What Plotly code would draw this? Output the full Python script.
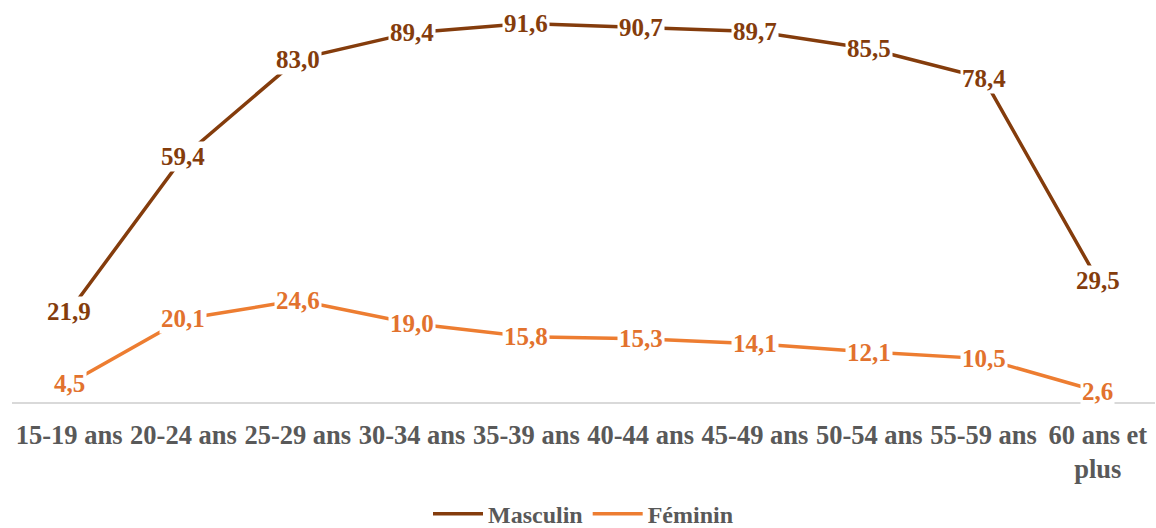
import plotly.graph_objects as go

categories = ["15-19 ans", "20-24 ans", "25-29 ans", "30-34 ans", "35-39 ans",
              "40-44 ans", "45-49 ans", "50-54 ans", "55-59 ans", "60 ans et<br>plus"]
masculin = [21.9, 59.4, 83.0, 89.4, 91.6, 90.7, 89.7, 85.5, 78.4, 29.5]
feminin = [4.5, 20.1, 24.6, 19.0, 15.8, 15.3, 14.1, 12.1, 10.5, 2.6]

C_M = "#843C0C"
C_F = "#ED7D31"
C_F_TXT = "#E2722E"
FONT = "Liberation Serif"

fig = go.Figure()
xs = list(range(len(categories)))
fig.add_trace(go.Scatter(x=xs, y=masculin, mode="lines", name="Masculin",
                         line=dict(color=C_M, width=3.5)))
fig.add_trace(go.Scatter(x=xs, y=feminin, mode="lines", name="Féminin",
                         line=dict(color=C_F, width=3.5)))

def fmt(v):
    return f"{v:.1f}".replace(".", ",")

annotations = []
for vals, col in ((masculin, C_M), (feminin, C_F_TXT)):
    for i, v in enumerate(vals):
        annotations.append(dict(x=i, y=v, xref="x", yref="y", text=f"<b>{fmt(v)}</b>",
                                showarrow=False, bgcolor="white", borderpad=1,
                                font=dict(family=FONT, size=25, color=col)))

fig.update_layout(
    width=1156, height=528,
    margin=dict(l=12, r=1, t=0, b=126, autoexpand=False),
    paper_bgcolor="white", plot_bgcolor="white",
    annotations=annotations,
    showlegend=True,
    legend=dict(orientation="h", x=0.5, xanchor="center", y=-0.279, yanchor="middle",
                itemwidth=50,
                font=dict(family=FONT, size=24, color="#595959", weight="bold")),
    xaxis=dict(range=[-0.5, 9.5], tickmode="array", tickvals=xs,
               ticktext=[f"<b>{c}</b>" for c in categories],
               showgrid=False, zeroline=False, showline=True,
               linecolor="#D9D9D9", linewidth=1.5, automargin=False,
               ticks="", ticklabelstandoff=8,
               tickfont=dict(family=FONT, size=26.5, color="#595959")),
    yaxis=dict(range=[0, 97.3], visible=False, showgrid=False, zeroline=False),
)

fig.write_html("out.html", config={"displayModeBar": False},
               post_script="document.body.style.margin='0';document.body.style.overflow='hidden';")
